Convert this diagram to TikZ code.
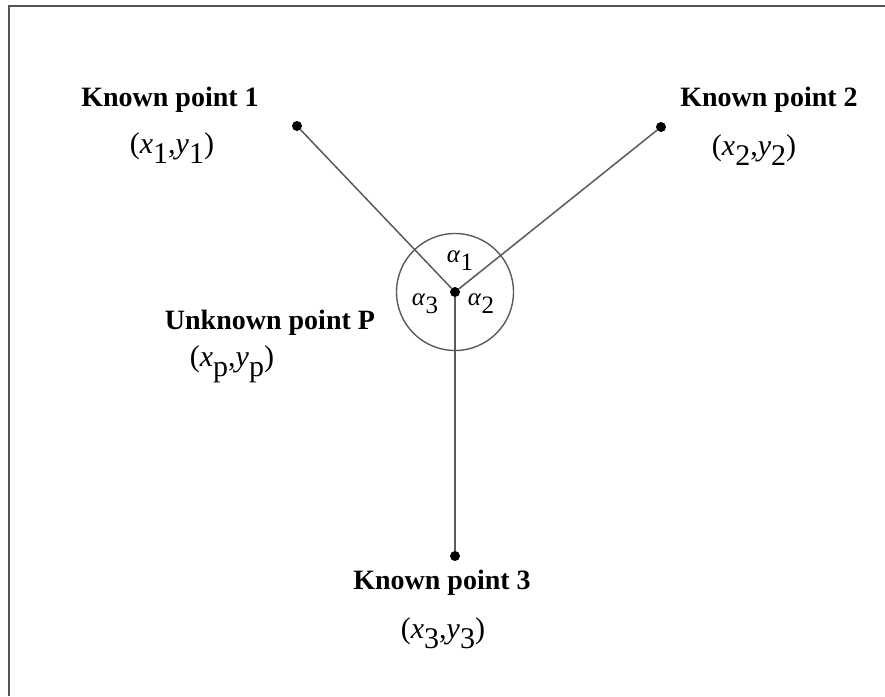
\documentclass[tikz,border=0pt]{standalone}
\usepackage{fontspec}
\setmainfont{Liberation Serif}
\usetikzlibrary{calc,positioning}
\definecolor{RayGray}{HTML}{5A5A5A}
\definecolor{FrameGray}{HTML}{555555}
\newcommand{\lowsub}[2]{\textit{#1}\raisebox{-0.7ex}{#2}}

\tikzset{
  dot/.style={circle, fill=black, inner sep=0pt, minimum size=10pt},
  ptlabel/.style={font=\fontsize{28}{32}\selectfont\bfseries, inner sep=0pt},
  crdlabel/.style={font=\fontsize{30}{34}\selectfont, inner sep=0pt},
  anglabel/.style={font=\fontsize{25}{28}\selectfont, inner sep=0pt},
  ray/.style={draw=RayGray, line width=1.5pt},
  ring/.style={circle, draw=RayGray, line width=1.4pt, minimum size=117pt, inner sep=0pt}
}

\begin{document}
\begin{tikzpicture}[x=1pt,y=-1pt]
  \useasboundingbox (0,0) rectangle (885,696);
  \draw[FrameGray, line width=2.2pt] (9,696) -- (9,6) -- (885,6);

  \node[dot] (p) at (455,292) {};
  \node[dot] (k1) at (297,126) {};
  \node[dot] (k2) at (661,127) {};
  \node[dot] (k3) at (455,556) {};
  \node[ring] (circ) at (p) {};

  \draw[ray] (k1) -- (p);
  \draw[ray] (k2) -- (p);
  \draw[ray, line width=1.9pt] (k3) -- (p);

  \node[ptlabel] (lk1) at (170,100) {Known point 1};
  \node[crdlabel] (ck1) at (172,148) {(\lowsub{x}{1},\lowsub{y}{1})};
  \node[ptlabel] (lk2) at (769,100) {Known point 2};
  \node[crdlabel] (ck2) at (754,150) {(\lowsub{x}{2},\lowsub{y}{2})};
  \node[ptlabel] (lp) at (270,323) {Unknown point P};
  \node[crdlabel] (cp) at (232,364) {(\lowsub{x}{p},\lowsub{y}{p})};
  \node[ptlabel] (lk3) at (442,583) {Known point 3};
  \node[crdlabel] (ck3) at (443,633) {(\lowsub{x}{3},\lowsub{y}{3})};

  \node[anglabel] (a1) at (460,261) {\lowsub{α}{1}};
  \node[anglabel] (a3) at (425,304) {\lowsub{α}{3}};
  \node[anglabel] (a2) at (481,304) {\lowsub{α}{2}};
\end{tikzpicture}
\end{document}
